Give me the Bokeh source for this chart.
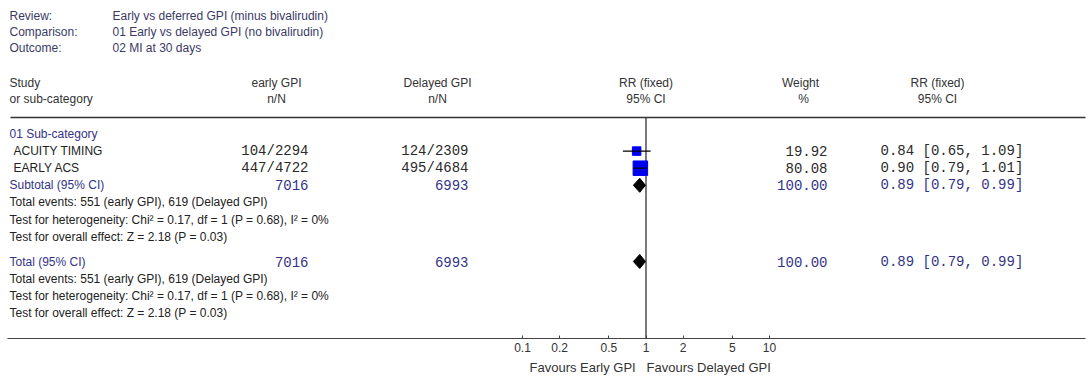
from bokeh.plotting import figure
from bokeh.models import Range1d, LogScale, LogAxis, FixedTicker, NumeralTickFormatter, Title, ColumnDataSource
from bokeh.core.properties import value
from bokeh.embed import file_html
from bokeh.resources import INLINE

# ---------------- data ----------------
header_keys = ["Review:", "Comparison:", "Outcome:"]
header_values = ["Early vs deferred GPI (minus bivalirudin)",
                 "01 Early vs delayed GPI (no bivalirudin)",
                 "02 MI at 30 days"]
group_names = ["early GPI", "Delayed GPI"]
subcategory = "01 Sub-category"
studies = ["ACUITY TIMING", "EARLY ACS"]
early_events = [104, 447]
early_total = [2294, 4722]
delayed_events = [124, 495]
delayed_total = [2309, 4684]
weights = [19.92, 80.08]
rr = [0.84, 0.90]
rr_lo = [0.65, 0.79]
rr_hi = [1.09, 1.01]
pooled_rr = 0.89
pooled_lo = 0.79
pooled_hi = 0.99
pooled_weight = 100.00
het_chi2, het_df, het_p, het_i2 = 0.17, 1, 0.68, 0
overall_z, overall_p = 2.18, 0.03
axis_ticks = [0.1, 0.2, 0.5, 1, 2, 5, 10]
favours = ["Favours Early GPI", "Favours Delayed GPI"]

# ---------------- layout ----------------
W, H = 1091, 381
FRAME_H = 338
PX_PER_DEC = 123.5
X_ONE = 645.5


def px_to_rr(px):
    return 10 ** ((px - X_ONE) / PX_PER_DEC)


SANS = value("Liberation Sans")
MONO = value("Liberation Mono")
FS = "12px"
MS = "14px"
NAVY = "#333388"
DARK = "#222222"
NUM = "#2a2a2a"
HEAD = "#333333"
META = "#3a3a66"

p = figure(width=W, height=H, output_backend="svg", toolbar_location=None,
           x_range=Range1d(0, W), y_range=Range1d(FRAME_H, 0),
           x_axis_location=None, y_axis_location=None,
           min_border_left=0, min_border_right=0, min_border_top=0,
           min_border_bottom=H - FRAME_H)
p.outline_line_color = None
p.grid.grid_line_color = None
p.background_fill_color = "white"
p.border_fill_color = "white"
p.extra_x_ranges = {"rr": Range1d(px_to_rr(0), px_to_rr(W))}
p.extra_x_scales = {"rr": LogScale()}


def txt(x, y, t, align="left", color=DARK, font=SANS, size=FS, rng="default"):
    p.text(x=[x], y=[y], text=[t], text_align=align, text_baseline="middle",
           text_color=color, text_font=font, text_font_size=value(size),
           x_range_name=rng)


# meta header
for i, (k, v) in enumerate(zip(header_keys, header_values)):
    y = 15 + 16 * i
    txt(9, y, k, color=META)
    txt(112, y, v, color=META)

# column headers
Y_H1, Y_H2 = 82, 98
txt(9, Y_H1, "Study", color=HEAD)
txt(9, Y_H2, "or sub-category", color=HEAD)
txt(276, Y_H1, group_names[0], "center", HEAD)
txt(276, Y_H2, "n/N", "center", HEAD)
txt(437, Y_H1, group_names[1], "center", HEAD)
txt(437, Y_H2, "n/N", "center", HEAD)
txt(1, Y_H1, "RR (fixed)", "center", HEAD, rng="rr")
txt(1, Y_H2, "95% CI", "center", HEAD, rng="rr")
txt(800, Y_H1, "Weight", "center", HEAD)
txt(803, Y_H2, "%", "center", HEAD)
txt(937, Y_H1, "RR (fixed)", "center", HEAD)
txt(937, Y_H2, "95% CI", "center", HEAD)

# separator line
p.segment(x0=[10], y0=[117], x1=[1085], y1=[117], line_color="#333333", line_width=1.6)

X_EARLY_R, X_DEL_R, X_W_R, X_CI_L = 308, 468, 827, 880
ROW0, STEP = 133.5, 17.1

txt(9, ROW0, subcategory, color=NAVY)
study_y = [ROW0 + STEP * (i + 1) for i in range(len(studies))]
for i, s in enumerate(studies):
    y = study_y[i]
    txt(13, y, s, color=DARK)
    txt(X_EARLY_R, y, f"{early_events[i]}/{early_total[i]}", "right", NUM, MONO, MS)
    txt(X_DEL_R, y, f"{delayed_events[i]}/{delayed_total[i]}", "right", NUM, MONO, MS)
    txt(X_W_R, y, f"{weights[i]:.2f}", "right", NUM, MONO, MS)
    txt(X_CI_L, y, f"{rr[i]:.2f} [{rr_lo[i]:.2f}, {rr_hi[i]:.2f}]", "left", NUM, MONO, MS)

tot_e_ev = sum(early_events)
tot_d_ev = sum(delayed_events)
events_line = f"Total events: {tot_e_ev} ({group_names[0]}), {tot_d_ev} ({group_names[1]})"
het_line = f"Test for heterogeneity: Chi\u00b2 = {het_chi2:.2f}, df = {het_df} (P = {het_p:.2f}), I\u00b2 = {het_i2}%"
overall_line = f"Test for overall effect: Z = {overall_z:.2f} (P = {overall_p:.2f})"


def summary_block(y0, label):
    txt(9, y0, label, color=NAVY)
    txt(X_EARLY_R, y0, f"{sum(early_total)}", "right", NAVY, MONO, MS)
    txt(X_DEL_R, y0, f"{sum(delayed_total)}", "right", NAVY, MONO, MS)
    txt(X_W_R, y0, f"{pooled_weight:.2f}", "right", NAVY, MONO, MS)
    txt(X_CI_L, y0, f"{pooled_rr:.2f} [{pooled_lo:.2f}, {pooled_hi:.2f}]", "left", NAVY, MONO, MS)
    txt(9, y0 + STEP, events_line, color=DARK)
    txt(9, y0 + 2 * STEP, het_line, color=DARK)
    txt(9, y0 + 3 * STEP, overall_line, color=DARK)


sub_y = ROW0 + STEP * (len(studies) + 1)
tot_y = 261
summary_block(sub_y, "Subtotal (95% CI)")
summary_block(tot_y, "Total (95% CI)")

# line of no effect
p.segment(x0=[1], x1=[1], y0=[117], y1=[FRAME_H], x_range_name="rr",
          line_color="#333333", line_width=1.3)

# squares & CIs
src = ColumnDataSource(dict(rr=rr, lo=rr_lo, hi=rr_hi, y=study_y,
                            size=[6.5 + 0.1 * w for w in weights]))
p.scatter(x="rr", y="y", size="size", marker="square", source=src, x_range_name="rr",
          fill_color="#0000f0", line_color="#0000f0")
p.segment(x0="lo", x1="hi", y0="y", y1="y", source=src, x_range_name="rr",
          line_color="black", line_width=1.2)

# diamonds
HALF = 7
dx, dy = [], []
for yc in (sub_y, tot_y):
    dx.append([pooled_lo, pooled_rr, pooled_hi, pooled_rr])
    dy.append([yc, yc - HALF, yc, yc + HALF])
p.patches(xs=dx, ys=dy, x_range_name="rr", fill_color="black", line_color="black")

# axis
ax = LogAxis(x_range_name="rr",
             ticker=FixedTicker(ticks=axis_ticks, minor_ticks=[]),
             formatter=NumeralTickFormatter(format="0.[0]"),
             major_tick_in=3, major_tick_out=0, minor_tick_in=0, minor_tick_out=0,
             axis_line_color="#444444", axis_line_width=1.2,
             major_tick_line_color="#444444",
             major_label_text_font="Liberation Sans", major_label_text_font_size=FS,
             major_label_text_color="#333333", major_label_standoff=4,
             bounds=(px_to_rr(7), px_to_rr(1085)))
p.add_layout(ax, "below")

# "favours" captions under the axis
gap = "\u00a0" * 3
fav = Title(text=favours[0] + gap + favours[1], align="left", offset=529,
            text_font="Liberation Sans", text_font_size="13px", text_font_style="normal",
            text_color="#333333", standoff=6)
p.add_layout(fav, "below")

open("out.html", "w").write(file_html(p, INLINE))
